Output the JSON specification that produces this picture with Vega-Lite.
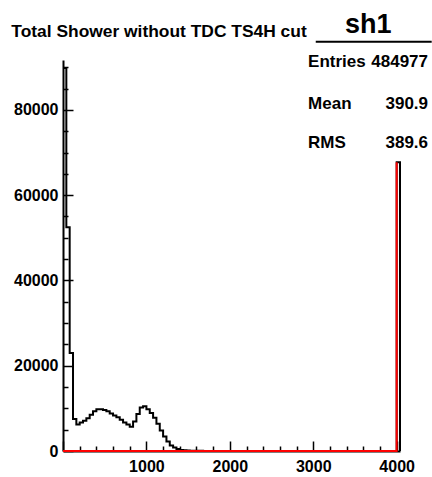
{
  "$schema": "https://vega.github.io/schema/vega-lite/v6.json",
  "width": 337,
  "height": 391,
  "autosize": {"type": "none"},
  "padding": {"left": 63, "top": 60, "right": 32, "bottom": 26},
  "background": "white",
  "config": {
    "view": {"stroke": null},
    "font": "Liberation Sans",
    "text": {"font": "Liberation Sans", "fontWeight": "bold", "color": "black"},
    "axis": {
      "domainColor": "black",
      "domainWidth": 2,
      "tickColor": "black",
      "tickWidth": 1.5,
      "labelFont": "Liberation Sans",
      "labelFontWeight": "bold",
      "labelFontSize": 16,
      "labelColor": "black",
      "grid": false,
      "title": null,
      "labelOverlap": false,
      "labelFlush": false,
      "labelBound": false,
      "format": "d"
    }
  },
  "resolve": {"axis": {"x": "independent", "y": "independent"}},
  "datasets": {
    "sh1": [
      {"x": 0, "count": 89800, "red": 0},
      {"x": 40, "count": 52500, "red": 0},
      {"x": 80, "count": 23000, "red": 0},
      {"x": 120, "count": 7500, "red": 0},
      {"x": 160, "count": 6200, "red": 0},
      {"x": 200, "count": 6700, "red": 0},
      {"x": 240, "count": 7100, "red": 0},
      {"x": 280, "count": 7700, "red": 0},
      {"x": 320, "count": 8500, "red": 0},
      {"x": 360, "count": 9300, "red": 0},
      {"x": 400, "count": 9800, "red": 0},
      {"x": 440, "count": 9800, "red": 0},
      {"x": 480, "count": 9600, "red": 0},
      {"x": 520, "count": 9300, "red": 0},
      {"x": 560, "count": 8800, "red": 0},
      {"x": 600, "count": 8300, "red": 0},
      {"x": 640, "count": 7900, "red": 0},
      {"x": 680, "count": 7300, "red": 0},
      {"x": 720, "count": 6700, "red": 0},
      {"x": 760, "count": 6200, "red": 0},
      {"x": 800, "count": 5700, "red": 0},
      {"x": 840, "count": 6900, "red": 0},
      {"x": 880, "count": 8700, "red": 0},
      {"x": 920, "count": 10200, "red": 0},
      {"x": 960, "count": 10500, "red": 0},
      {"x": 1000, "count": 9800, "red": 0},
      {"x": 1040, "count": 8900, "red": 0},
      {"x": 1080, "count": 7800, "red": 0},
      {"x": 1120, "count": 6400, "red": 0},
      {"x": 1160, "count": 4800, "red": 0},
      {"x": 1200, "count": 3400, "red": 0},
      {"x": 1240, "count": 2200, "red": 0},
      {"x": 1280, "count": 1300, "red": 0},
      {"x": 1320, "count": 800, "red": 0},
      {"x": 1360, "count": 450, "red": 0},
      {"x": 1400, "count": 250, "red": 0},
      {"x": 1440, "count": 150, "red": 0},
      {"x": 1480, "count": 100, "red": 0},
      {"x": 1520, "count": 70, "red": 0},
      {"x": 1560, "count": 50, "red": 0},
      {"x": 1600, "count": 40, "red": 0},
      {"x": 1640, "count": 30, "red": 0},
      {"x": 1680, "count": 25, "red": 0},
      {"x": 1720, "count": 20, "red": 0},
      {"x": 1760, "count": 15, "red": 0},
      {"x": 1800, "count": 10, "red": 0},
      {"x": 1840, "count": 0, "red": 0},
      {"x": 1880, "count": 0, "red": 0},
      {"x": 1920, "count": 0, "red": 0},
      {"x": 1960, "count": 0, "red": 0},
      {"x": 2000, "count": 0, "red": 0},
      {"x": 2040, "count": 0, "red": 0},
      {"x": 2080, "count": 0, "red": 0},
      {"x": 2120, "count": 0, "red": 0},
      {"x": 2160, "count": 0, "red": 0},
      {"x": 2200, "count": 0, "red": 0},
      {"x": 2240, "count": 0, "red": 0},
      {"x": 2280, "count": 0, "red": 0},
      {"x": 2320, "count": 0, "red": 0},
      {"x": 2360, "count": 0, "red": 0},
      {"x": 2400, "count": 0, "red": 0},
      {"x": 2440, "count": 0, "red": 0},
      {"x": 2480, "count": 0, "red": 0},
      {"x": 2520, "count": 0, "red": 0},
      {"x": 2560, "count": 0, "red": 0},
      {"x": 2600, "count": 0, "red": 0},
      {"x": 2640, "count": 0, "red": 0},
      {"x": 2680, "count": 0, "red": 0},
      {"x": 2720, "count": 0, "red": 0},
      {"x": 2760, "count": 0, "red": 0},
      {"x": 2800, "count": 0, "red": 0},
      {"x": 2840, "count": 0, "red": 0},
      {"x": 2880, "count": 0, "red": 0},
      {"x": 2920, "count": 0, "red": 0},
      {"x": 2960, "count": 0, "red": 0},
      {"x": 3000, "count": 0, "red": 0},
      {"x": 3040, "count": 0, "red": 0},
      {"x": 3080, "count": 0, "red": 0},
      {"x": 3120, "count": 0, "red": 0},
      {"x": 3160, "count": 0, "red": 0},
      {"x": 3200, "count": 0, "red": 0},
      {"x": 3240, "count": 0, "red": 0},
      {"x": 3280, "count": 0, "red": 0},
      {"x": 3320, "count": 0, "red": 0},
      {"x": 3360, "count": 0, "red": 0},
      {"x": 3400, "count": 0, "red": 0},
      {"x": 3440, "count": 0, "red": 0},
      {"x": 3480, "count": 0, "red": 0},
      {"x": 3520, "count": 0, "red": 0},
      {"x": 3560, "count": 0, "red": 0},
      {"x": 3600, "count": 0, "red": 0},
      {"x": 3640, "count": 0, "red": 0},
      {"x": 3680, "count": 0, "red": 0},
      {"x": 3720, "count": 0, "red": 0},
      {"x": 3760, "count": 0, "red": 0},
      {"x": 3800, "count": 0, "red": 0},
      {"x": 3840, "count": 0, "red": 0},
      {"x": 3880, "count": 0, "red": 0},
      {"x": 3920, "count": 0, "red": 0},
      {"x": 3960, "count": 0, "red": 0},
      {"x": 4000, "count": 67700, "red": 67700},
      {"x": 4040, "count": 0, "red": null}
    ],
    "stats": [
      {"name": "Entries", "value": "484977"},
      {"name": "Mean", "value": "390.9"},
      {"name": "RMS", "value": "389.6"}
    ]
  },
  "layer": [
    {
      "data": {"name": "sh1"},
      "mark": {"type": "line", "interpolate": "step-after", "color": "black", "strokeWidth": 2},
      "encoding": {
        "x": {
          "field": "x", "type": "quantitative",
          "scale": {"domain": [0, 4040], "nice": false, "zero": false},
          "axis": {
            "orient": "bottom",
            "values": [1000, 2000, 3000, 4000],
            "ticks": false,
            "labelPadding": 7
          }
        },
        "y": {
          "field": "count", "type": "quantitative",
          "scale": {"domain": [0, 91700], "nice": false},
          "axis": {
            "orient": "left",
            "values": [0, 20000, 40000, 60000, 80000],
            "ticks": false,
            "labelPadding": 5
          }
        }
      }
    },
    {
      "data": {"name": "sh1"},
      "mark": {"type": "line", "interpolate": "step-after", "color": "#ff0000", "strokeWidth": 2},
      "encoding": {
        "x": {
          "field": "x", "type": "quantitative",
          "axis": {
            "orient": "top",
            "offset": -391,
            "values": [0, 1000, 2000, 3000, 4000],
            "labels": false,
            "domain": false,
            "ticks": true,
            "tickSize": 10
          }
        },
        "y": {
          "field": "red", "type": "quantitative",
          "axis": {
            "orient": "right",
            "offset": -337,
            "values": [0, 20000, 40000, 60000, 80000],
            "labels": false,
            "domain": false,
            "ticks": true,
            "tickSize": 10
          }
        }
      }
    },
    {
      "data": {"values": [{}]},
      "mark": {"type": "text", "text": "Total Shower without TDC TS4H cut", "fontSize": 17.4, "align": "left", "baseline": "alphabetic"},
      "encoding": {
        "x": {"datum": -619, "axis": {
            "orient": "top",
            "offset": -391,
            "values": [200, 400, 600, 800, 1200, 1400, 1600, 1800, 2200, 2400, 2600, 2800, 3200, 3400, 3600, 3800],
            "labels": false,
            "domain": false,
            "ticks": true,
            "tickSize": 5
          }},
        "y": {"datum": 97140, "axis": {
            "orient": "right",
            "offset": -337,
            "values": [5000, 10000, 15000, 25000, 30000, 35000, 45000, 50000, 55000, 65000, 70000, 75000, 85000, 90000],
            "labels": false,
            "domain": false,
            "ticks": true,
            "tickSize": 5
          }}
      }
    },
    {
      "data": {"values": [{}]},
      "mark": {"type": "text", "text": "sh1", "fontSize": 27, "align": "center", "baseline": "alphabetic"},
      "encoding": {"x": {"datum": 3660, "axis": null}, "y": {"datum": 97940, "axis": null}}
    },
    {
      "data": {"values": [{}]},
      "mark": {"type": "rule", "color": "black", "strokeWidth": 2},
      "encoding": {"x": {"datum": 3030, "axis": null}, "x2": {"datum": 4420}, "y": {"datum": 95970, "axis": null}}
    },
    {
      "data": {"name": "stats"},
      "transform": [{"filter": "datum.name === 'Entries'"}],
      "layer": [
        {"mark": {"type": "text", "fontSize": 17, "align": "left", "baseline": "alphabetic"},
         "encoding": {"text": {"field": "name"}, "x": {"datum": 2938, "axis": null}, "y": {"datum": 90110, "axis": null}}},
        {"mark": {"type": "text", "fontSize": 17, "align": "right", "baseline": "alphabetic"},
         "encoding": {"text": {"field": "value"}, "x": {"datum": 4376, "axis": null}, "y": {"datum": 90110, "axis": null}}}
      ]
    },
    {
      "data": {"name": "stats"},
      "transform": [{"filter": "datum.name === 'Mean'"}],
      "layer": [
        {"mark": {"type": "text", "fontSize": 17, "align": "left", "baseline": "alphabetic"},
         "encoding": {"text": {"field": "name"}, "x": {"datum": 2938, "axis": null}, "y": {"datum": 80120, "axis": null}}},
        {"mark": {"type": "text", "fontSize": 17, "align": "right", "baseline": "alphabetic"},
         "encoding": {"text": {"field": "value"}, "x": {"datum": 4376, "axis": null}, "y": {"datum": 80120, "axis": null}}}
      ]
    },
    {
      "data": {"name": "stats"},
      "transform": [{"filter": "datum.name === 'RMS'"}],
      "layer": [
        {"mark": {"type": "text", "fontSize": 17, "align": "left", "baseline": "alphabetic"},
         "encoding": {"text": {"field": "name"}, "x": {"datum": 2938, "axis": null}, "y": {"datum": 70970, "axis": null}}},
        {"mark": {"type": "text", "fontSize": 17, "align": "right", "baseline": "alphabetic"},
         "encoding": {"text": {"field": "value"}, "x": {"datum": 4376, "axis": null}, "y": {"datum": 70970, "axis": null}}}
      ]
    }
  ]
}
